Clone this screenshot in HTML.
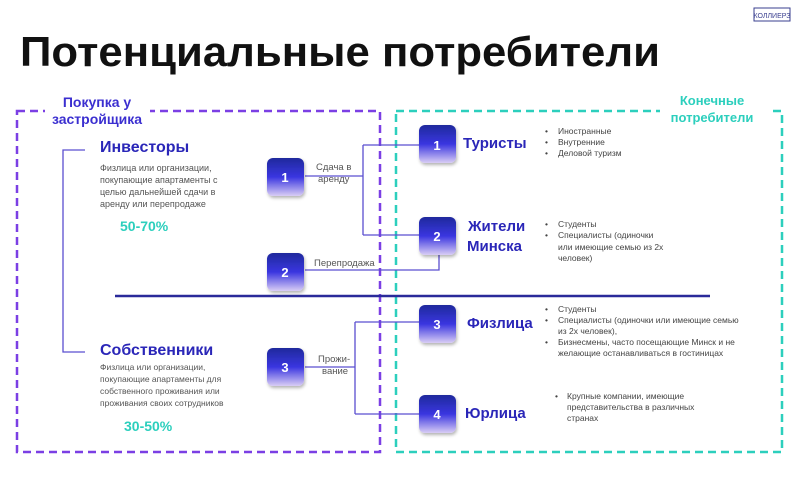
<!DOCTYPE html>
<html><head><meta charset="utf-8"><style>
body{margin:0;background:#fff;width:800px;height:474px;overflow:hidden;font-family:"Liberation Sans","DejaVu Sans",sans-serif}
</style></head><body>
<svg width="800" height="474" xmlns="http://www.w3.org/2000/svg" font-family="Liberation Sans, DejaVu Sans, sans-serif">
<defs>
<linearGradient id="g" x1="0" y1="0" x2="0" y2="1">
<stop offset="0" stop-color="#1f2a9c"/><stop offset="0.5" stop-color="#3a35e0"/><stop offset="1" stop-color="#d9cdf5"/></linearGradient>
<filter id="s" x="-30%" y="-30%" width="160%" height="160%"><feDropShadow dx="1" dy="2" stdDeviation="1.5" flood-color="#000" flood-opacity="0.3"/></filter>
</defs>
<rect x="754" y="8" width="36" height="13" fill="#fff" stroke="#3a3f8f" stroke-width="1"/>
<text x="772" y="18" font-size="7" fill="#3a3f8f" text-anchor="middle">КОЛЛИЕРЗ</text>
<text x="20" y="66" font-size="42" font-weight="bold" fill="#111" textLength="640" lengthAdjust="spacingAndGlyphs">Потенциальные потребители</text>
<rect x="17" y="111" width="363" height="341" fill="none" stroke="#7b3fe4" stroke-width="2.5" stroke-dasharray="8,5"/>
<rect x="396" y="111" width="386" height="341" fill="none" stroke="#2ccfbd" stroke-width="2.5" stroke-dasharray="8,5"/>
<rect x="45" y="94" width="105" height="30" fill="#fff"/>
<text x="97" y="107" font-size="14" font-weight="bold" fill="#3b2fd0" text-anchor="middle">Покупка у</text>
<text x="97" y="124" font-size="14" font-weight="bold" fill="#3b2fd0" text-anchor="middle">застройщика</text>
<rect x="660" y="94" width="110" height="30" fill="#fff"/>
<text x="712" y="105" font-size="13" font-weight="bold" fill="#2ccfbd" text-anchor="middle">Конечные</text>
<text x="712" y="122" font-size="13" font-weight="bold" fill="#2ccfbd" text-anchor="middle">потребители</text>
<g fill="none" stroke="#5b4fd0" stroke-width="1.3">
<path d="M85 150 H63 V352 H85"/>
<path d="M305 176 H363 M363 145 V235 M363 145 H420 M363 235 H420"/>
<path d="M305 270 H439 V255"/>
<path d="M305 367 H355 M355 322 V414 M355 322 H420 M355 414 H420"/>
</g>
<line x1="115" y1="296" x2="710" y2="296" stroke="#2a2a9a" stroke-width="2.5"/>
<g filter="url(#s)" fill="url(#g)">
<rect x="267" y="158" width="37" height="38" rx="6"/>
<rect x="267" y="253" width="37" height="38" rx="6"/>
<rect x="267" y="348" width="37" height="38" rx="6"/>
<rect x="419" y="125" width="37" height="38" rx="6"/>
<rect x="419" y="217" width="37" height="38" rx="6"/>
<rect x="419" y="305" width="37" height="38" rx="6"/>
<rect x="419" y="395" width="37" height="38" rx="6"/>
</g>
<g fill="#fff" font-size="13" font-weight="bold" text-anchor="middle">
<text x="285" y="182">1</text><text x="285" y="277">2</text><text x="285" y="372">3</text>
<text x="437" y="150">1</text><text x="437" y="241">2</text><text x="437" y="329">3</text><text x="437" y="419">4</text>
</g>
<g fill="#555" font-size="9.5">
<text x="316" y="170">Сдача в</text><text x="318" y="182">аренду</text>
<text x="314" y="266">Перепродажа</text>
<text x="318" y="362">Прожи-</text><text x="322" y="374">вание</text>
</g>
<text x="100" y="152" font-size="16" font-weight="bold" fill="#2a26b8">Инвесторы</text>
<g fill="#555" font-size="9">
<text x="100" y="171">Физлица или организации,</text>
<text x="100" y="183">покупающие апартаменты с</text>
<text x="100" y="195">целью дальнейшей сдачи в</text>
<text x="100" y="207">аренду или перепродаже</text>
</g>
<text x="120" y="231" font-size="14" font-weight="bold" fill="#2ccfbd">50-70%</text>
<text x="100" y="355" font-size="16" font-weight="bold" fill="#2a26b8">Собственники</text>
<g fill="#555" font-size="8.5">
<text x="100" y="370">Физлица или организации,</text>
<text x="100" y="382">покупающие апартаменты для</text>
<text x="100" y="394">собственного проживания или</text>
<text x="100" y="406">проживания своих сотрудников</text>
</g>
<text x="124" y="431" font-size="14" font-weight="bold" fill="#2ccfbd">30-50%</text>
<g font-size="15" font-weight="bold" fill="#2a26b8">
<text x="463" y="148">Туристы</text>
<text x="468" y="231">Жители</text><text x="467" y="251">Минска</text>
<text x="467" y="328">Физлица</text>
<text x="465" y="418">Юрлица</text>
</g>
<g fill="#444" font-size="8.5">
<text x="545" y="134">•</text><text x="558" y="134">Иностранные</text>
<text x="545" y="145">•</text><text x="558" y="145">Внутренние</text>
<text x="545" y="156">•</text><text x="558" y="156">Деловой туризм</text>
<text x="545" y="227">•</text><text x="558" y="227">Студенты</text>
<text x="545" y="238">•</text><text x="558" y="238">Специалисты (одиночки</text>
<text x="558" y="250">или имеющие семью из 2х</text>
<text x="558" y="261">человек)</text>
<text x="545" y="312">•</text><text x="558" y="312">Студенты</text>
<text x="545" y="323">•</text><text x="558" y="323">Специалисты (одиночки или имеющие семью</text>
<text x="558" y="334">из 2х человек),</text>
<text x="545" y="345">•</text><text x="558" y="345">Бизнесмены, часто посещающие Минск и не</text>
<text x="558" y="356">желающие останавливаться в гостиницах</text>
<text x="555" y="399">•</text><text x="567" y="399">Крупные компании, имеющие</text>
<text x="567" y="410">представительства в различных</text>
<text x="567" y="421">странах</text>
</g>
</svg>
</body></html>
